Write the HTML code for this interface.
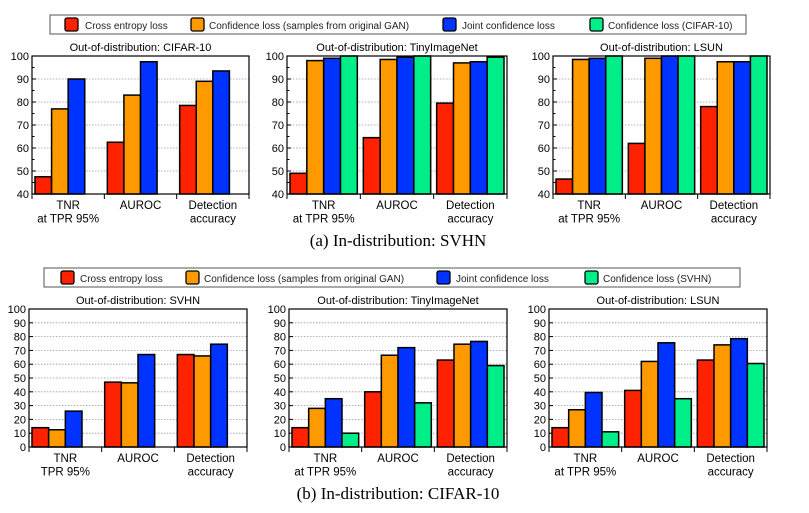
<!DOCTYPE html>
<html><head><meta charset="utf-8"><style>
html,body{margin:0;padding:0;background:#fff;}
svg{display:block;font-family:"Liberation Sans",sans-serif;}
</style></head><body>
<svg id="fig" width="809" height="513" xmlns="http://www.w3.org/2000/svg"></svg>
<script>
const categoriesA = [["TNR","at TPR 95%"],["AUROC"],["Detection","accuracy"]];
const categoriesB1 = [["TNR","TPR 95%"],["AUROC"],["Detection","accuracy"]];
const seriesNamesA = ["Cross entropy loss","Confidence loss (samples from original GAN)","Joint confidence loss","Confidence loss (CIFAR-10)"];
const seriesNamesB = ["Cross entropy loss","Confidence loss (samples from original GAN)","Joint confidence loss","Confidence loss (SVHN)"];
const colors = ["#ff2200","#ff9900","#0033ff","#00ee88"];
// Top row (in-dist SVHN)
const a1Red=[47.5,62.5,78.5], a1Orange=[77,83,89], a1Blue=[90,97.5,93.5];
const a2Red=[49,64.5,79.5], a2Orange=[98,98.5,97], a2Blue=[99,99.5,97.5], a2Green=[100,100,99.5];
const a3Red=[46.5,62,78], a3Orange=[98.5,99,97.5], a3Blue=[99,100,97.5], a3Green=[100,100,100];
// Bottom row (in-dist CIFAR-10)
const b1Red=[14,47,67], b1Orange=[12.5,46.5,66], b1Blue=[26,67,74.5];
const b2Red=[14,40,63], b2Orange=[28,66.5,74.5], b2Blue=[35,72,76.5], b2Green=[10,32,59];
const b3Red=[14,41,63], b3Orange=[27,62,74], b3Blue=[39.5,75.5,78.5], b3Green=[11,35,60.5];
const ticksA=[40,50,60,70,80,90,100];
const ticksB=[0,10,20,30,40,50,60,70,80,90,100];

const NS="http://www.w3.org/2000/svg";
const svg=document.getElementById('fig');
function mk(tag,attrs,parent){const e=document.createElementNS(NS,tag);for(const k in attrs)e.setAttribute(k,attrs[k]);(parent||svg).appendChild(e);return e;}

function panel(name,x0,x1,y0,y1,ymin,ymax,ticks,minor,title,cats,series){
  const g=mk('g',{});
  
  
  const ys=v=>y1-(v-ymin)/(ymax-ymin)*(y1-y0);
  const gw=(x1-x0)/cats.length;
  ticks.forEach(t=>{
    if(t!==ymin&&t!==ymax){const l=mk('line',{x1:x0,x2:x1,y1:ys(t),y2:ys(t),stroke:'#999','stroke-width':0.8,'stroke-dasharray':'1.5,1.5'},g);
    }
    mk('line',{x1:x0,x2:x0+4,y1:ys(t),y2:ys(t),stroke:'#000','stroke-width':1},g);
    const tx=mk('text',{x:x0-3,y:ys(t)+4,'font-size':11,'text-anchor':'end',fill:'#000'},g);
    tx.textContent=t;
    
    
  });
  if(minor){for(let t=ymin+5;t<ymax;t+=10){mk('line',{x1:x0,x2:x0+2.5,y1:ys(t),y2:ys(t),stroke:'#000','stroke-width':1},g);}}
  const bw=(gw-6)/4;
  cats.forEach((c,i)=>{
    series.forEach((s,j)=>{
      const v=s.vals[i];const bx=x0+i*gw+3+j*bw;
      const r=mk('rect',{x:bx,y:ys(v),width:bw,height:ys(ymin)-ys(v),fill:colors[s.c],stroke:'#000','stroke-width':1.5},g);
      
      
    });
    c.forEach((line,k)=>{
      const t=mk('text',{x:x0+i*gw+gw/2,y:y1+15+k*13.5,'font-size':11.5,'text-anchor':'middle',fill:'#000'},g);
      t.textContent=line;
      
      
    });
    if(i>0)mk('line',{x1:x0+i*gw,x2:x0+i*gw,y1:y1,y2:y1+5,stroke:'#000','stroke-width':1},g);
  });
  mk('line',{x1:x0,x2:x0,y1:y1,y2:y1+5,stroke:'#000','stroke-width':1},g);
  mk('line',{x1:x1,x2:x1,y1:y1,y2:y1+5,stroke:'#000','stroke-width':1},g);
  const fr=mk('rect',{x:x0,y:y0,width:x1-x0,height:y1-y0,fill:'none',stroke:'#000','stroke-width':1.2},g);
  
  
  const tt=mk('text',{x:(x0+x1)/2,y:y0-5,'font-size':11,'text-anchor':'middle',fill:'#000'},g);
  tt.textContent=title;
  
  
}

function legend(name,x,y,w,h,names,sw,tx){
  const g=mk('g',{});
  
  
  mk('rect',{x:x,y:y,width:w,height:h,fill:'#fff',stroke:'#555','stroke-width':1},g);
  names.forEach((n,i)=>{
    const r=mk('rect',{x:sw[i],y:y+3,width:13,height:13,rx:2,fill:colors[i],stroke:'#000','stroke-width':1.3},g);
    
    
    const t=mk('text',{x:tx[i],y:y+14,'font-size':10,fill:'#222'},g);
    t.textContent=n;
    
    
  });
}

legend('legend-top',50,15,696,19,seriesNamesA,[65,191,443,590],[85,209,462,608]);
legend('legend-bottom',44,268,696,19,seriesNamesB,[61,186,437,585],[80,204,456,603]);

panel('chart-svhn-cifar10',32,249,56,194,40,100,ticksA,true,'Out-of-distribution: CIFAR-10',categoriesA,
  [{key:'cross-entropy',c:0,vals:a1Red},{key:'confidence-gan',c:1,vals:a1Orange},{key:'joint',c:2,vals:a1Blue}]);
panel('chart-svhn-tinyimagenet',287,507,56,194,40,100,ticksA,true,'Out-of-distribution: TinyImageNet',categoriesA,
  [{key:'cross-entropy',c:0,vals:a2Red},{key:'confidence-gan',c:1,vals:a2Orange},{key:'joint',c:2,vals:a2Blue},{key:'confidence-ood',c:3,vals:a2Green}]);
panel('chart-svhn-lsun',553,770,56,194,40,100,ticksA,true,'Out-of-distribution: LSUN',categoriesA,
  [{key:'cross-entropy',c:0,vals:a3Red},{key:'confidence-gan',c:1,vals:a3Orange},{key:'joint',c:2,vals:a3Blue},{key:'confidence-ood',c:3,vals:a3Green}]);

panel('chart-cifar10-svhn',29,247,309,447,0,100,ticksB,false,'Out-of-distribution: SVHN',categoriesB1,
  [{key:'cross-entropy',c:0,vals:b1Red},{key:'confidence-gan',c:1,vals:b1Orange},{key:'joint',c:2,vals:b1Blue}]);
panel('chart-cifar10-tinyimagenet',289,507,309,447,0,100,ticksB,false,'Out-of-distribution: TinyImageNet',categoriesA,
  [{key:'cross-entropy',c:0,vals:b2Red},{key:'confidence-gan',c:1,vals:b2Orange},{key:'joint',c:2,vals:b2Blue},{key:'confidence-ood',c:3,vals:b2Green}]);
panel('chart-cifar10-lsun',549,767,309,447,0,100,ticksB,false,'Out-of-distribution: LSUN',categoriesA,
  [{key:'cross-entropy',c:0,vals:b3Red},{key:'confidence-gan',c:1,vals:b3Orange},{key:'joint',c:2,vals:b3Blue},{key:'confidence-ood',c:3,vals:b3Green}]);

const ca=mk('text',{x:398,y:246,'font-size':17,'text-anchor':'middle','font-family':'Liberation Serif, serif',fill:'#000'});
ca.textContent='(a)  In-distribution: SVHN';


const cb=mk('text',{x:398,y:499,'font-size':17,'text-anchor':'middle','font-family':'Liberation Serif, serif',fill:'#000'});
cb.textContent='(b)  In-distribution: CIFAR-10';


</script>
</body></html>
